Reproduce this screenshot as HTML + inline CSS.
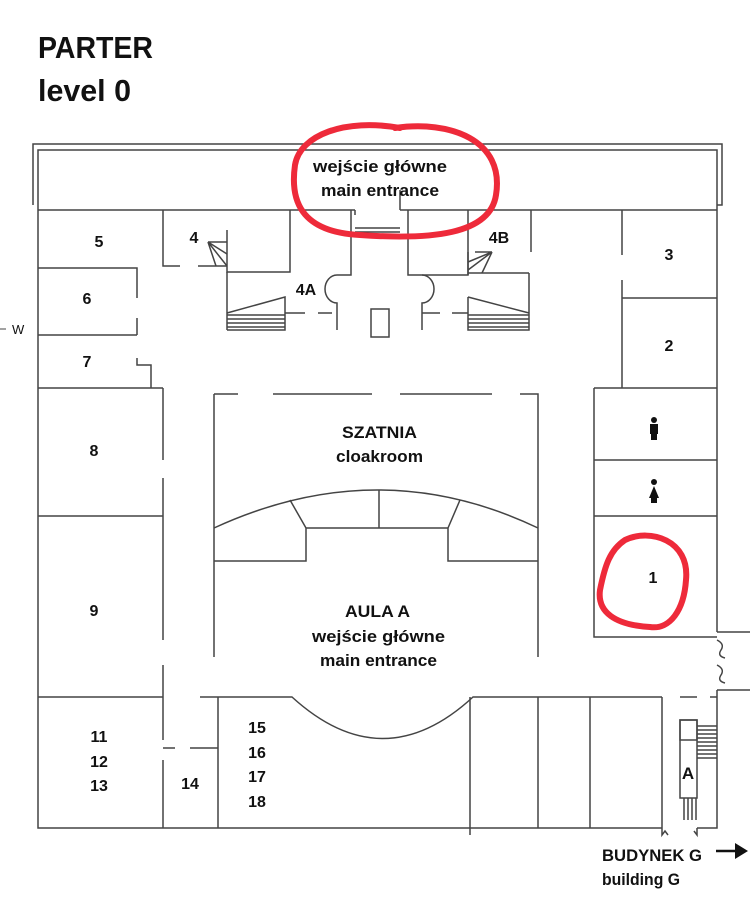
<!DOCTYPE html>
<html><head><meta charset="utf-8"><style>
html,body{margin:0;padding:0;background:#fff;width:750px;height:910px;overflow:hidden}
svg text{font-family:"Liberation Sans Narrow","Liberation Sans",sans-serif;font-weight:bold;fill:#111}
</style></head><body>
<svg width="750" height="910" viewBox="0 0 750 910" xmlns="http://www.w3.org/2000/svg">
<text x="38" y="58" font-size="31" textLength="115" lengthAdjust="spacingAndGlyphs">PARTER</text>
<text x="38" y="101" font-size="31" textLength="93" lengthAdjust="spacingAndGlyphs">level 0</text>
<g fill="none" stroke="#444" stroke-width="1.5">
<path d="M33,205 V144 H722 V205 H717"/>
<path d="M38,210 V150 H717 V632"/>
<path d="M38,210 H355 M400,210 H717"/>
<path d="M38,210 V828 H662 M697,828 H717 V690"/>
<path d="M717,632 H750 M717,690 H750"/>
<path d="M717,640 q8,4 4,10 q-4,6 4,8 M717,665 q8,4 4,10 q-4,6 4,8"/>
<path d="M38,268 H137 V298 M137,318 V335 M38,335 H137"/>
<path d="M137,358 V365 H151 V388 M38,388 H163"/>
<path d="M163,388 V460 M163,478 V516 M38,516 H163 M163,516 V640 M163,665 V697 M38,697 H163 M163,697 V740 M163,760 V828"/>
<path d="M163,210 V266 H180 M198,266 H227 M227,230 V272 H290 V210"/>
<path d="M227,272 V330"/>
<path d="M208,242 H227 M208,242 L216,266 M208,242 L227,254 M208,242 L227,266"/>
<path d="M227,330 H285 V297 L227,313"/>
<path d="M227,315 H285 M227,319 H285 M227,323 H285 M227,327 H285"/>
<path d="M285,313 H305 M318,313 H332 M337,313 V330"/>
<path d="M351,210 V275 H337 a12,14 0 0 0 0,28 V313"/>
<rect x="371" y="309" width="18" height="28"/>
<path d="M408,210 V275 H468 V210 M468,252 V275"/>
<path d="M422,275 a12,14 0 0 1 0,28 V330 M422,313 H440 M452,313 H468"/>
<path d="M468,297 L529,313 V330 H468 V297 M468,315 H529 M468,319 H529 M468,323 H529 M468,327 H529 M529,273 V330 H468 M468,273 H529"/>
<path d="M475,252 L492,252 M492,252 L468,262 M492,252 L468,270 M492,252 L482,273 M468,252 V275"/>
<path d="M531,210 V252"/>
<path d="M400,210 V190 M355,210 V215 M355,228 H400 M355,232 H400"/>
<path d="M622,210 V255 M622,280 V388 M622,298 H717 M594,388 H717"/>
<path d="M594,388 V637 H717 M594,460 H717 M594,516 H717"/>
<path d="M214,394 H238 M273,394 H372 M400,394 H492 M520,394 H538 V400 M214,394 V657 M538,394 V657"/>
<path d="M214,528 Q379,452 538,528"/>
<path d="M306,528 H448 M306,528 V561 H214 M448,528 V561 H538 M379,490 V528 M306,528 L290,500 M448,528 L460,500"/>
<path d="M200,697 H292 Q383,780 473,697 H662 M680,697 H697 M710,697 H717"/>
<path d="M218,697 V828 M163,748 H175 M190,748 H218"/>
<path d="M470,697 V835 M538,697 V828 M590,697 V828 M662,697 V828"/>
<path d="M662,828 V835 l3,-4 l3,4 M697,828 V835 l-3,-4"/>
<rect x="680" y="720" width="17" height="78"/>
<rect x="680" y="720" width="17" height="20"/>
<path d="M697,726 H717 M697,730 H717 M697,734 H717 M697,738 H717 M697,742 H717 M697,746 H717 M697,750 H717 M697,754 H717 M697,758 H717"/>
<path d="M684,798 V820 M688,798 V820 M692,798 V820 M696,798 V820"/>
</g>
<path d="M0,329 H6" stroke="#444"/>
<text x="12" y="334" font-size="13" style="font-weight:normal">W</text>
<g font-size="16" text-anchor="middle">
<text x="99" y="247">5</text><text x="87" y="304">6</text><text x="87" y="367">7</text>
<text x="94" y="456">8</text><text x="94" y="616">9</text>
<text x="194" y="243">4</text><text x="306" y="295">4A</text><text x="499" y="243">4B</text>
<text x="669" y="260">3</text><text x="669" y="351">2</text><text x="653" y="583">1</text>
<text x="99" y="742">11</text><text x="99" y="767">12</text><text x="99" y="791">13</text>
<text x="190" y="789">14</text>
<text x="257" y="733">15</text><text x="257" y="758">16</text><text x="257" y="782">17</text><text x="257" y="807">18</text>
</g>
<g font-size="17">
<text x="342" y="438" textLength="75" lengthAdjust="spacingAndGlyphs">SZATNIA</text>
<text x="336" y="462" textLength="87" lengthAdjust="spacingAndGlyphs">cloakroom</text>
<text x="345" y="617" textLength="65" lengthAdjust="spacingAndGlyphs">AULA A</text>
<text x="312" y="642" textLength="133" lengthAdjust="spacingAndGlyphs">wejście główne</text>
<text x="320" y="666" textLength="117" lengthAdjust="spacingAndGlyphs">main entrance</text>
<text x="313" y="172" textLength="134" lengthAdjust="spacingAndGlyphs">wejście główne</text>
<text x="321" y="196" textLength="118" lengthAdjust="spacingAndGlyphs">main entrance</text>
<text x="602" y="861" textLength="100" lengthAdjust="spacingAndGlyphs">BUDYNEK G</text>
<text x="602" y="885" textLength="78" lengthAdjust="spacingAndGlyphs">building G</text>
</g>
<text x="688" y="779" font-size="17" text-anchor="middle">A</text>
<g fill="#111"><circle cx="654" cy="420" r="3"/><rect x="650" y="424" width="8" height="10"/><rect x="651" y="432" width="6" height="8"/>
<circle cx="654" cy="482" r="3"/><path d="M654,486 l-5,12 h10 z"/><rect x="651" y="497" width="6" height="6"/></g>
<path d="M716,851 H736" stroke="#111" stroke-width="2.5"/><path d="M735,843 L748,851 L735,859 z" fill="#111"/>
<g fill="none" stroke="#ee2a3a" stroke-width="6" stroke-linecap="round">
<path d="M395,128 C450,120 505,140 496,195 C490,235 430,240 360,235 C300,232 290,200 295,165 C300,135 345,118 400,128"/>
<path d="M625,540 C650,528 690,540 686,580 C684,610 670,630 650,627 C615,625 597,612 600,590 C605,565 610,550 625,540"/>
</g>
</svg>
</body></html>
